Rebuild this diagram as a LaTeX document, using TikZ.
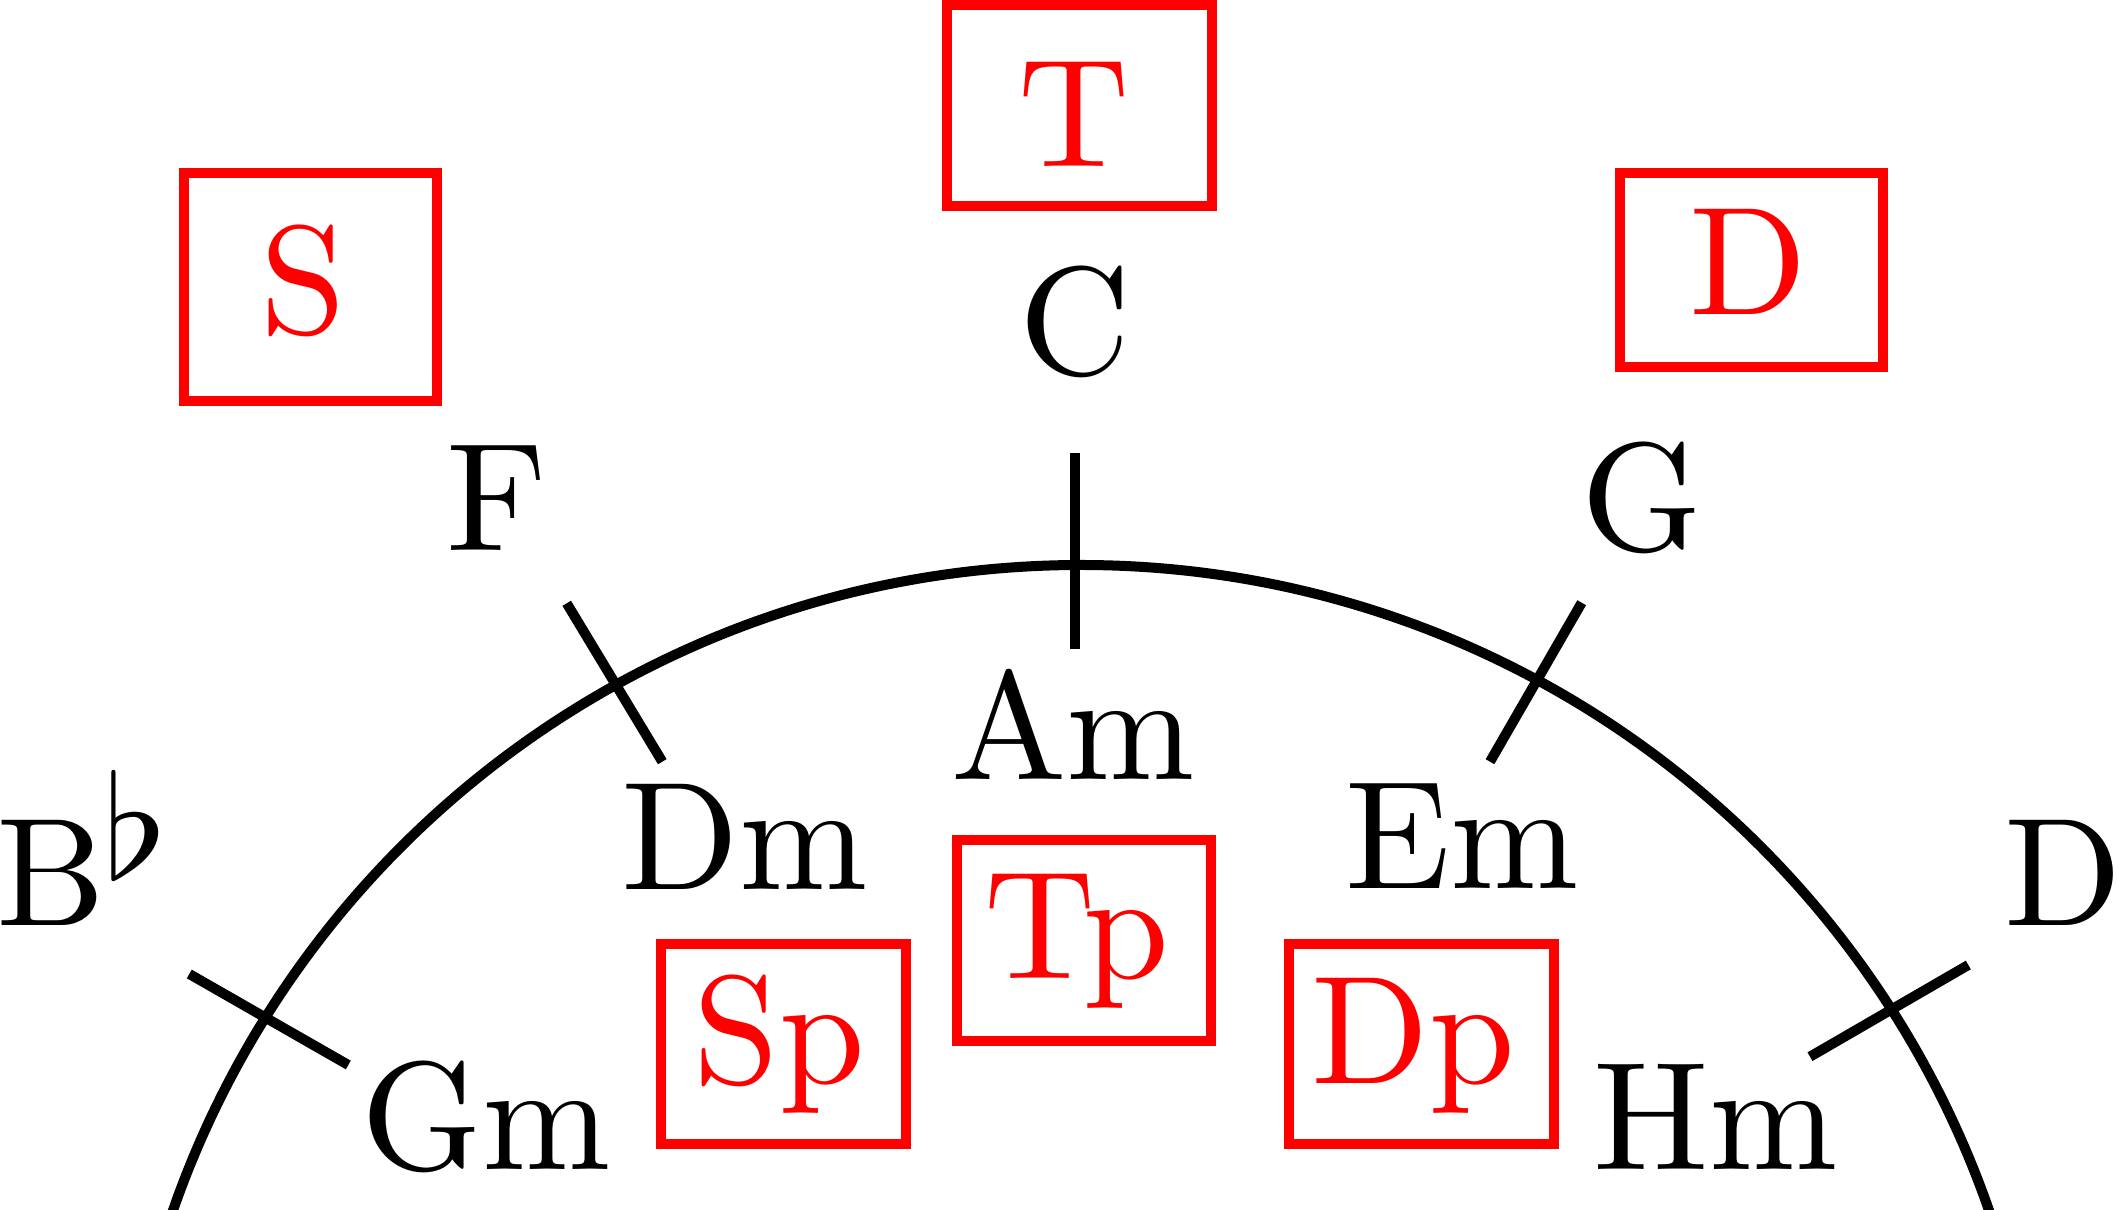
\documentclass[tikz,border=0pt]{standalone}
\usepackage{graphicx}
\newcommand{\bigtxt}[1]{\scalebox{4.38}{\fontsize{10pt}{12pt}\selectfont #1}}
\begin{document}
\begin{tikzpicture}[x=0.01cm,y=-0.01cm,
  lbl/.style={anchor=base, inner sep=0pt, text=black},
  redlbl/.style={lbl, text=red},
  redbox/.style={draw=red, line width=1mm, inner sep=0pt},
  blk/.style={draw=black, line width=1mm}]
\useasboundingbox (0,0) rectangle (2117,1210);
\clip (0,0) rectangle (2117,1210);
% circle
\coordinate (O) at (1081,1526);
\draw[blk] (O) circle[radius=961];
% ticks
\coordinate (t90a) at (1075,453);
\coordinate (t90b) at (1075,649);
\coordinate (t120a) at (566.7,603.3);
\coordinate (t120b) at (662.3,761.7);
\coordinate (t60a) at (1581.7,602.7);
\coordinate (t60b) at (1490,761.7);
\coordinate (t150a) at (189.3,974);
\coordinate (t150b) at (348.3,1065);
\coordinate (t30a) at (1968.3,965);
\coordinate (t30b) at (1810,1056.7);
\draw[blk] (t90a) -- (t90b);
\draw[blk] (t120a) -- (t120b);
\draw[blk] (t60a) -- (t60b);
\draw[blk] (t150a) -- (t150b);
\draw[blk] (t30a) -- (t30b);
% red boxes
\node[redbox, minimum width=2.656cm, minimum height=2.007cm] (Tbox) at (1079.5,105.35) {};
\node[redbox, minimum width=2.530cm, minimum height=2.277cm] (Sbox) at (310.8,287.15) {};
\node[redbox, minimum width=2.633cm, minimum height=1.940cm] (Dbox) at (1751.65,270.3) {};
\node[redbox, minimum width=2.543cm, minimum height=2.010cm] (Tpbox) at (1083.85,940.5) {};
\node[redbox, minimum width=2.450cm, minimum height=2.000cm] (Spbox) at (783.5,1044.3) {};
\node[redbox, minimum width=2.653cm, minimum height=2.000cm] (Dpbox) at (1421.65,1044.3) {};
% red labels
\node[redlbl] (T) at (1074.3,167) {\bigtxt{T}};
\node[redlbl] (S) at (303.3,334) {\bigtxt{S}};
\node[redlbl] (Dr) at (1748.3,314.3) {\bigtxt{D}};
\node[redlbl] (Tp) at (1076.7,979) {\bigtxt{Tp}};
\node[redlbl] (Sp) at (779.2,1084) {\bigtxt{Sp}};
\node[redlbl] (Dp) at (1413.3,1084) {\bigtxt{Dp}};
% major keys
\node[lbl] (C) at (1075.3,375) {\bigtxt{C}};
\node[lbl] (F) at (497,551) {\bigtxt{F}};
\node[lbl] (G) at (1642,551) {\bigtxt{G}};
\node[lbl] (D) at (2063,925.7) {\bigtxt{D}};
\node[lbl, anchor=base west] (Bb) at (-4.4,925.7) {\bigtxt{B}\kern-0.9pt\raisebox{13.4pt}{\scalebox{4.8}[4.1]{\fontsize{10pt}{12pt}\selectfont$\flat$}}};
% minor keys
\node[lbl] (Am) at (1073,780) {\bigtxt{Am}};
\node[lbl] (Dm) at (744.5,889.3) {\bigtxt{Dm}};
\node[lbl] (Em) at (1461.8,888.3) {\bigtxt{Em}};
\node[lbl] (Gm) at (486,1170) {\bigtxt{Gm}};
\node[lbl] (Hm) at (1715.8,1170) {\bigtxt{Hm}};
\end{tikzpicture}
\end{document}
